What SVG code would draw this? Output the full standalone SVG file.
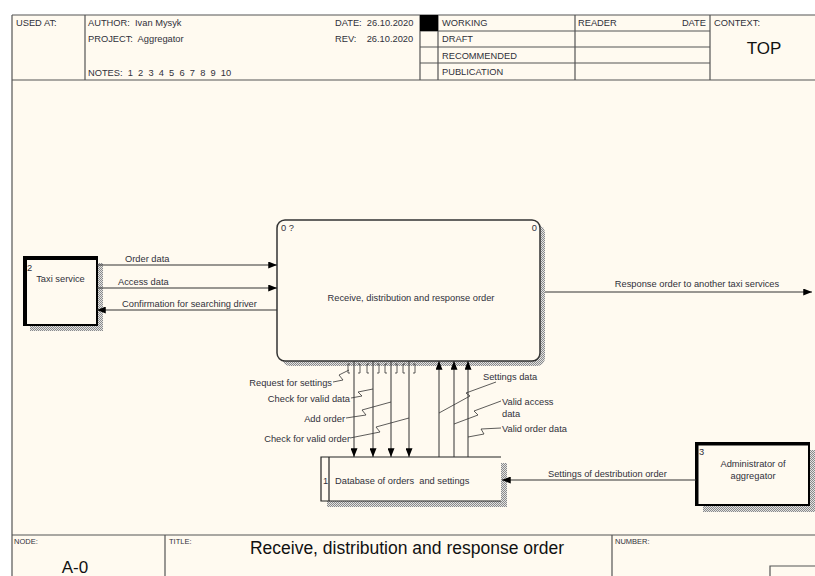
<svg xmlns="http://www.w3.org/2000/svg" width="815" height="576" viewBox="0 0 815 576">
<defs>
<pattern id="hatch" width="2" height="2" patternUnits="userSpaceOnUse"><rect width="2" height="2" fill="#e2e2e2"/><rect width="1" height="1" fill="#8a8a8a"/><rect x="1" y="1" width="1" height="1" fill="#8a8a8a"/></pattern>
<marker id="arr" viewBox="0 0 10 8" refX="10" refY="4" markerWidth="9" markerHeight="7" markerUnits="userSpaceOnUse" orient="auto"><path d="M0,0L10,4L0,8Z" fill="#000"/></marker>
</defs>
<style>
text{font-family:"Liberation Sans",Arial,sans-serif;fill:#30303a;font-size:9.3px}
.hd{font-size:9.3px;white-space:pre}
.sm{font-size:7.5px}
.frame{fill:none;stroke:#555;stroke-width:1.2}
.ln{fill:none;stroke:#333;stroke-width:1}
.arrow{fill:none;stroke:#333;stroke-width:1;marker-end:url(#arr)}
.sq{fill:none;stroke:#333;stroke-width:0.8}
.shadow{fill:url(#hatch)}
.pre{white-space:pre}
</style>
<rect x="0" y="0" width="815" height="576" fill="#fff"/>
<rect x="12" y="15" width="803" height="561" fill="#fffaf0"/>
<g id="header">
<path class="frame" d="M12,15H815M12,15V576M12,80H815M85,15V80M420,15V80M438,15V80M575,15V80M710,15V80M420,31H710M420,47H710M420,63H710"/>
<rect x="420" y="15" width="18" height="16" fill="#000"/>
<text class="hd" x="16" y="26">USED AT:</text>
<text class="hd" x="88" y="26">AUTHOR:  Ivan Mysyk</text>
<text class="hd" x="88" y="42">PROJECT:  Aggregator</text>
<text class="hd" x="88" y="76">NOTES:  1  2  3  4  5  6  7  8  9  10</text>
<text class="hd" x="335" y="26">DATE:  26.10.2020</text>
<text class="hd" x="335" y="42">REV:    26.10.2020</text>
<text class="hd" x="442" y="26">WORKING</text>
<text class="hd" x="442" y="42">DRAFT</text>
<text class="hd" x="442" y="58.5">RECOMMENDED</text>
<text class="hd" x="442" y="75">PUBLICATION</text>
<text class="hd" x="578" y="26">READER</text>
<text class="hd" x="706" y="26" text-anchor="end">DATE</text>
<text class="hd" x="714" y="26">CONTEXT:</text>
<text x="764" y="54" text-anchor="middle" style="font-size:17px;fill:#111">TOP</text>
</g>
<g id="footer">
<path class="frame" d="M12,535H815M165,535V576M612,535V576M770,576V566H815"/>
<text class="sm" x="14" y="543.5">NODE:</text>
<text class="sm" x="169" y="543.5">TITLE:</text>
<text class="sm" x="615" y="543.5">NUMBER:</text>
<text x="407" y="554" text-anchor="middle" style="font-size:17.5px;fill:#111">Receive, distribution and response order</text>
<text x="75" y="573" text-anchor="middle" style="font-size:17px;fill:#111">A-0</text>
</g>
<g id="node-main">
<rect class="shadow" x="282" y="225" width="263" height="141" rx="8"/>
<rect x="277" y="220" width="263" height="141" rx="8" fill="#fffaf0" stroke="#333" stroke-width="1.5"/>
<text x="281" y="231">0 ?</text>
<text x="537" y="231" text-anchor="end">0</text>
<text x="411" y="301" text-anchor="middle">Receive, distribution and response order</text>
</g>
<g id="node-taxi">
<rect class="shadow" x="30" y="263" width="73" height="68"/>
<rect x="24" y="257" width="73" height="68" fill="#fffaf0" stroke="#000" stroke-width="2"/>
<path d="M26,257V325M24,259H97" stroke="#000" stroke-width="2" fill="none"/>
<text x="27" y="271">2</text>
<text x="60.5" y="281.5" text-anchor="middle">Taxi service</text>
</g>
<g id="node-db">
<rect class="shadow" x="327" y="463" width="180" height="44"/>
<rect x="321" y="457" width="180" height="44" fill="#fffaf0" stroke="none"/>
<path d="M501,457H321V501H501M329,457V501" stroke="#222" stroke-width="1.2" fill="none"/>
<text x="323" y="483.5">1</text>
<text class="pre" x="335" y="483.5">Database of orders  and settings</text>
</g>
<g id="node-admin">
<rect class="shadow" x="703" y="450" width="113" height="62"/>
<rect x="696" y="443" width="113" height="62" fill="#fffaf0" stroke="#000" stroke-width="2"/>
<path d="M696,444.5H809M697.5,443V505" stroke="#000" stroke-width="2" fill="none"/>
<text x="699" y="455">3</text>
<text x="753" y="466.5" text-anchor="middle">Administrator of</text>
<text x="753" y="478.5" text-anchor="middle">aggregator</text>
</g>
<g id="connectors">
<path class="arrow" d="M97,265H277"/>
<path class="arrow" d="M97,288H277"/>
<path class="arrow" d="M277,310H97"/>
<path class="arrow" d="M545,292H812"/>
<path class="arrow" d="M696,480H502"/>
<path class="arrow" d="M354,361V457"/>
<path class="arrow" d="M373,361V457"/>
<path class="arrow" d="M391,361V457"/>
<path class="arrow" d="M409,361V457"/>
<path class="arrow" d="M439,457V361"/>
<path class="arrow" d="M454,457V361"/>
<path class="arrow" d="M468,457V361"/>
<path class="sq" d="M350,364h-2v9h2M358,364h2v9h-2M369,364h-2v9h2M377,364h2v9h-2M387,364h-2v9h2M395,364h2v9h-2M405,364h-2v9h2M413,364h2v9h-2"/>
<path class="sq" d="M333,382L343,380L339,375L349,370"/>
<path class="sq" d="M351,398L362,396L358,392L373,389"/>
<path class="sq" d="M346,418L366,415L362,410L391,402"/>
<path class="sq" d="M350,438L380,432L376,427L409,418"/>
<path class="sq" d="M439,413L470,396L466,393L496,382"/>
<path class="sq" d="M454,424L478,415L474,411L501,401"/>
<path class="sq" d="M468,437L484,434L481,429L501,428"/>
<text x="125" y="262">Order data</text>
<text x="118" y="285">Access data</text>
<text x="122" y="307">Confirmation for searching driver</text>
<text x="697" y="286.5" text-anchor="middle">Response order to another taxi services</text>
<text x="548" y="476.5">Settings of destribution order</text>
<text x="332" y="385.5" text-anchor="end">Request for settings</text>
<text x="350" y="401.5" text-anchor="end">Check for valid data</text>
<text x="345" y="421.5" text-anchor="end">Add order</text>
<text x="350" y="441.5" text-anchor="end">Check for valid order</text>
<text x="483" y="379.5">Settings data</text>
<text x="502" y="404.5">Valid access</text>
<text x="502" y="416.5">data</text>
<text x="502" y="431.5">Valid order data</text>
</g>
</svg>
